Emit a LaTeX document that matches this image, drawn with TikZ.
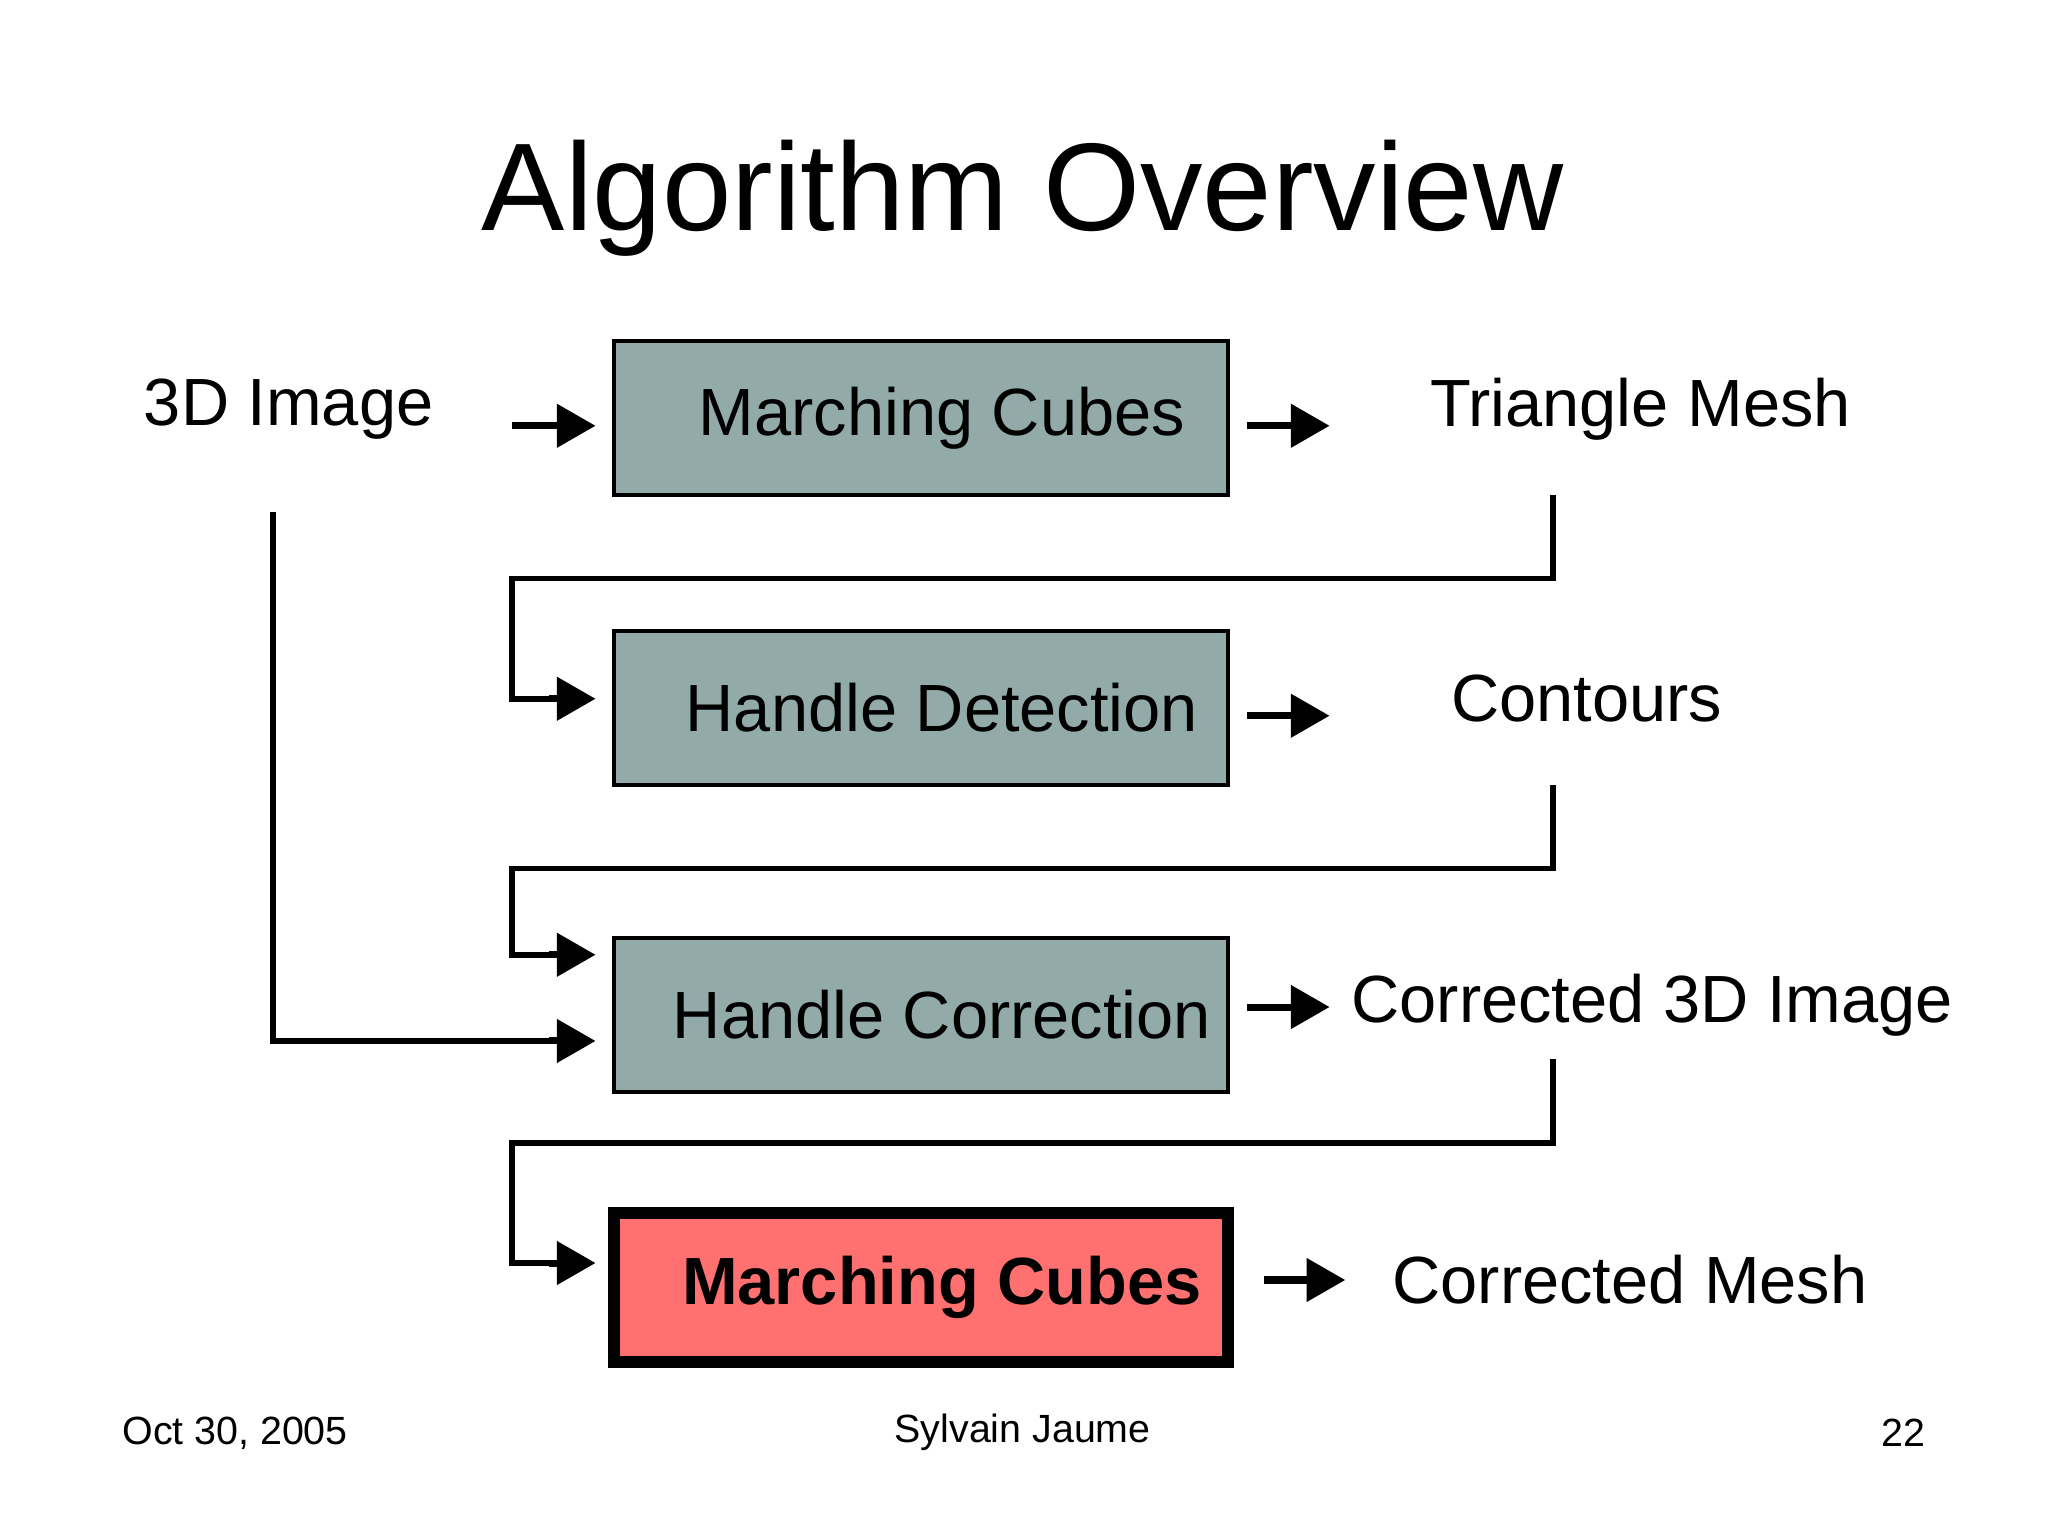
\documentclass[tikz,border=0pt]{standalone}
\usepackage{fontspec}
\setmainfont{Liberation Sans}
\usetikzlibrary{arrows.meta}
\definecolor{boxg}{HTML}{93ABA8}
\definecolor{boxr}{HTML}{FF7070}
\begin{document}
\begin{tikzpicture}[x=0.01306cm,y=-0.01306cm,
  box/.style={draw=black,line width=1.2pt,fill=boxg,minimum width=470*0.01306cm,minimum height=118*0.01306cm,font=\fontsize{19}{23}\selectfont,inner sep=0pt},
  lbl/.style={font=\fontsize{19}{23}\selectfont,inner sep=0pt},
  foot/.style={font=\fontsize{11.2}{13}\selectfont,inner sep=0pt},
  arr/.style={line width=2pt,-{Triangle[length=11pt,width=12pt]}},
  con/.style={line width=1.6pt}]
\useasboundingbox (0,0) rectangle (1568,1176);
\node[font=\fontsize{35.5}{42}\selectfont] (title) at (783,152) {Algorithm Overview};
\node[box] (mc1) at (705,320) {\hspace*{12pt}Marching Cubes};
\node[box] (hd) at (705,542) {\hspace*{12pt}Handle Detection};
\node[box] (hc) at (705,777) {\hspace*{12pt}Handle Correction};
\node[box,fill=boxr,line width=3.4pt,minimum height=114*0.01306cm,font=\fontsize{19}{23}\selectfont\bfseries] (mc2) at (705,986) {\hspace*{12pt}Marching Cubes};
\node[lbl] (img) at (221,313) {3D Image};
\node[lbl] (tm) at (1256,313) {Triangle Mesh};
\node[lbl] (ct) at (1215,535) {Contours};
\node[lbl] (c3) at (1265,770) {Corrected 3D Image};
\node[lbl] (cm) at (1248,980) {Corrected Mesh};
\node[foot] (f1) at (180,1097) {Oct 30, 2005};
\node[foot] (f2) at (783,1097) {Sylvain Jaume};
\node[foot] (f3) at (1457,1097) {22};
\coordinate (a1) at (392,326); \coordinate (a1e) at (456,326);
\coordinate (b1) at (955,326); \coordinate (b1e) at (1018,326);
\coordinate (b2) at (955,548); \coordinate (b2e) at (1018,548);
\coordinate (b3) at (955,771); \coordinate (b3e) at (1018,771);
\coordinate (b4) at (968,980); \coordinate (b4e) at (1030,980);
\draw[arr] (a1) -- (a1e);
\draw[arr] (b1) -- (b1e);
\draw[arr] (b2) -- (b2e);
\draw[arr] (b3) -- (b3e);
\draw[arr] (b4) -- (b4e);
\coordinate (s1) at (1189,379); \coordinate (e1) at (456,535);
\coordinate (s2) at (1189,601); \coordinate (e2) at (456,731);
\coordinate (s3) at (1189,811); \coordinate (e3) at (456,967);
\coordinate (s4) at (209,392); \coordinate (e4) at (456,797);
\draw[con] (s1) |- (392,443) -- (392,535) -- (420,535);
\draw[arr] (420,535) -- (e1);
\draw[con] (s2) |- (392,665) -- (392,731) -- (420,731);
\draw[arr] (420,731) -- (e2);
\draw[con] (s3) |- (392,875) -- (392,967) -- (420,967);
\draw[arr] (420,967) -- (e3);
\draw[con] (s4) |- (420,797);
\draw[arr] (420,797) -- (e4);
\end{tikzpicture}
\end{document}
